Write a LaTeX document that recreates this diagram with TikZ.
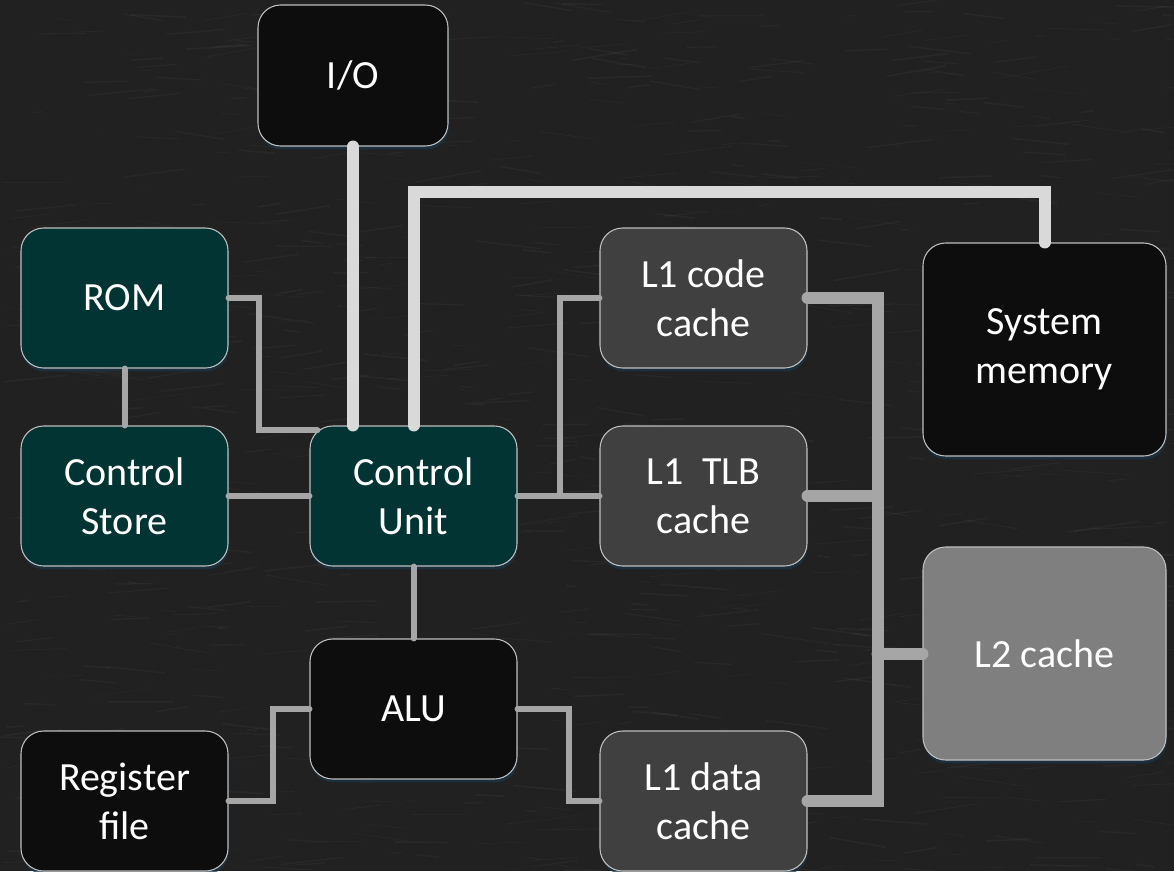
\documentclass[tikz,border=0pt]{standalone}
\usepackage{fontspec}
\setmainfont{Carlito}
\usetikzlibrary{calc,shadows}

\definecolor{board}{HTML}{212121}
\definecolor{cuteal}{HTML}{023434}
\definecolor{ink}{HTML}{0D0D0D}
\definecolor{lonegray}{HTML}{404040}
\definecolor{ltwogray}{HTML}{7F7F7F}
\definecolor{edge}{HTML}{BFBFBF}
\definecolor{glow}{HTML}{1B3446}
\definecolor{wire}{HTML}{A6A6A6}
\definecolor{pale}{HTML}{D9D9D9}

\tikzset{
  unit/.style={rounded corners=17pt, draw=edge, line width=0.8pt,
    text=white, align=center, inner sep=0pt,
    font=\fontsize{30}{36.75}\selectfont,
    minimum width=155.25pt, minimum height=105pt,
    drop shadow={shadow xshift=0.6pt, shadow yshift=-2.6pt, fill=glow, opacity=0.75}},
  wide/.style={minimum width=182.25pt, minimum height=159.75pt},
  thinwire/.style={draw=wire, line width=4.5pt, line cap=round},
  buswire/.style={draw=wire, line width=9pt, line cap=round},
  palewire/.style={draw=pale, line width=9pt, line cap=round},
}

\begin{document}
\begin{tikzpicture}[x=0.75pt, y=-0.75pt]
  % chalkboard
  \useasboundingbox (0,0) rectangle (1174,871);
  \fill[board] (0,0) rectangle (1174,871);
  \pgfmathsetseed{4242}
  \foreach \k in {1,...,900}{
    \pgfmathsetmacro{\stx}{rnd*1174}
    \pgfmathsetmacro{\sty}{rnd*871}
    \pgfmathsetmacro{\stl}{8+rnd*60}
    \pgfmathsetmacro{\sta}{-10+rnd*20}
    \pgfmathsetmacro{\stw}{0.3+rnd*1.0}
    \draw[white, opacity=0.035, line width=\stw pt] (\stx,\sty) -- ++(\sta:\stl);
  }

  % processor blocks
  \node[unit, fill=ink, minimum width=142.5pt, minimum height=105.75pt] (io) at (353,75.5) {I/O};
  \node[unit, fill=cuteal] (rom) at (124.5,298) {ROM};
  \node[unit, fill=cuteal] (cs)  at (124.5,496) {Control\\Store};
  \node[unit, fill=cuteal] (cu)  at (413.5,496) {Control\\Unit};
  \node[unit, fill=ink]    (alu) at (413.5,709) {ALU};
  \node[unit, fill=ink]    (rf)  at (124.5,801) {Register\\file};
  \node[unit, fill=lonegray] (l1c) at (703.5,298) {L1 code\\cache};
  \node[unit, fill=lonegray] (tlb) at (703.5,496) {L1~ TLB\\cache};
  \node[unit, fill=lonegray] (l1d) at (703.5,801) {L1 data\\cache};
  \node[unit, wide, fill=ink]      (sys) at (1044.5,349.5) {System\\memory};
  \node[unit, wide, fill=ltwogray] (l2)  at (1044.5,653.5) {L2 cache};

  % control paths
  \draw[thinwire] (rom.east) -- ++(30,0) |- ($(cu.north west)+(8,5)$);
  \draw[thinwire] (rom.south) -- (cs.north);
  \draw[thinwire] (cs.east) -- (cu.west);
  \draw[thinwire] (cu.south) -- (alu.north);
  \draw[thinwire] (cu.east) -- (tlb.west);
  \draw[thinwire] ($(cu.east)!0.518!(tlb.west)$) |- (l1c.west);
  \draw[thinwire] (rf.east) -- ++(44,0) |- (alu.west);
  \draw[thinwire] (alu.east) -- ++(51,0) |- (l1d.west);

  % cache bus
  \draw[buswire] (l1c.east) -- ++(70,0) coordinate (bustop) |- (l1d.east);
  \draw[buswire] (tlb.east) -- (tlb.east -| bustop);
  \draw[buswire] (l2.west -| bustop) -- (l2.west);

  % external links
  \draw[palewire] (io.south) -- (io.south |- cu.north);
  \draw[palewire] (cu.north) |- ($(sys.north)+(0,-50)$) -- (sys.north);
\end{tikzpicture}
\end{document}
